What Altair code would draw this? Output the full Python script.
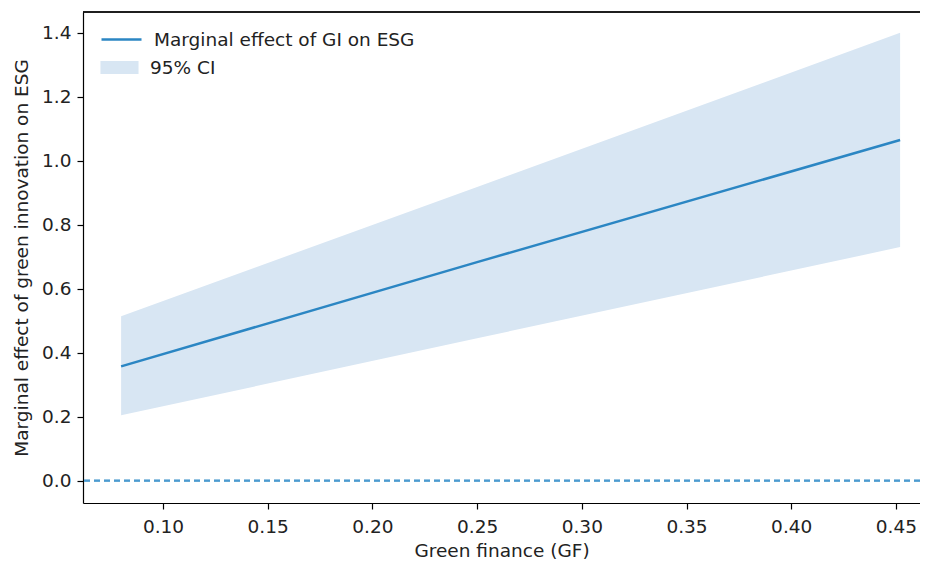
import altair as alt
import pandas as pd

# Data
gf = [0.08, 0.25, 0.452]
effect = [0.357, 0.683, 1.065]
ci_low = [0.204, 0.445, 0.730]
ci_high = [0.514, 0.918, 1.400]

df = pd.DataFrame({"gf": gf, "effect": effect, "lo": ci_low, "hi": ci_high})
df["line_lab"] = "Marginal effect of GI on ESG"
df["band_lab"] = "95% CI"

FONT = "DejaVu Sans"
FS = 18.5
LINE_C = "#2b86c3"
BAND_C = "#d8e6f3"
X_DOMAIN = [0.0618, 0.4615]
Y_DOMAIN = [-0.07, 1.465]

xscale = alt.Scale(domain=X_DOMAIN, nice=False, zero=False)
yscale = alt.Scale(domain=Y_DOMAIN, nice=False, zero=False)

xaxis = alt.Axis(values=[0.10, 0.15, 0.20, 0.25, 0.30, 0.35, 0.40, 0.45], format=".2f",
                 title="Green finance (GF)")
yaxis = alt.Axis(values=[0.0, 0.2, 0.4, 0.6, 0.8, 1.0, 1.2, 1.4], format=".1f",
                 title="Marginal effect of green innovation on ESG")

band = alt.Chart(df).mark_area(opacity=1).encode(
    x=alt.X("gf:Q", scale=xscale, axis=xaxis),
    y=alt.Y("lo:Q", scale=yscale, axis=yaxis),
    y2="hi:Q",
    fill=alt.Fill("band_lab:N", scale=alt.Scale(range=[BAND_C]),
                  legend=alt.Legend(title=None, orient="none", legendX=17, legendY=36,
                                    symbolType="M-1,-0.34L1,-0.34L1,0.34L-1,0.34Z",
                                    symbolSize=1450, symbolStrokeWidth=0,
                                    symbolOpacity=1)),
)

# top spine at the top of the y domain (right spine is cropped in the reference)
topspine = alt.Chart(df).mark_rule(color="#000000", strokeWidth=1.2).encode(
    y=alt.datum(Y_DOMAIN[1])
)

zero = alt.Chart(df).mark_rule(color="#4d9bd0", strokeDash=[6, 4], strokeWidth=1.6).encode(
    y=alt.datum(0)
)

line = alt.Chart(df).mark_line(strokeWidth=2.5).encode(
    x="gf:Q",
    y="effect:Q",
    stroke=alt.Stroke("line_lab:N", scale=alt.Scale(range=[LINE_C]),
                      legend=alt.Legend(title=None, orient="none", legendX=17, legendY=6,
                                        symbolType="stroke", symbolSize=1600,
                                        symbolStrokeWidth=2.5)),
)

chart = alt.layer(band, topspine, zero, line).resolve_scale(
    fill="independent", stroke="independent"
).properties(
    width=837, height=491,
    autosize=alt.AutoSizeParams(type="none"),
    padding={"left": 75, "top": 4, "right": 0, "bottom": 58},
).configure_view(
    strokeWidth=0
).configure_axis(
    grid=False,
    labelFont=FONT, labelFontSize=FS, labelColor="#222222",
    titleFont=FONT, titleFontSize=FS, titleColor="#222222", titleFontWeight="normal",
    domainColor="#000000", domainWidth=1.2,
    tickColor="#000000", tickWidth=1.2, tickSize=6,
    labelPadding=6,
).configure_axisX(
    labelPadding=8, titlePadding=6
).configure_axisY(
    titlePadding=10
).configure_legend(
    labelFont=FONT, labelFontSize=FS, labelColor="#222222", labelLimit=500,
    labelOffset=11, padding=0, rowPadding=8,
)

chart.save("out.html", embed_options={"renderer": "svg", "actions": False})
